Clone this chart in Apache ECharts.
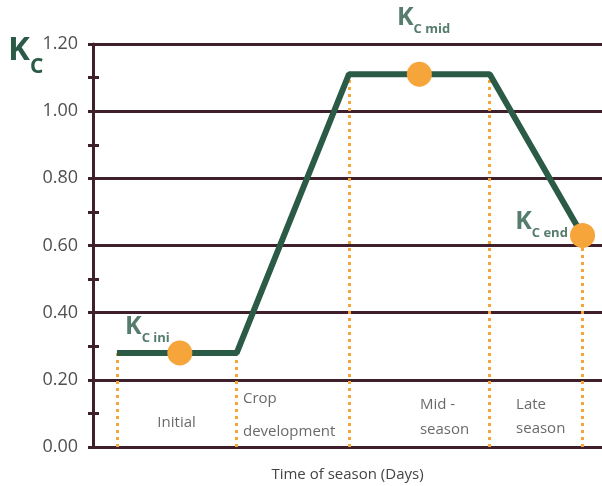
<!DOCTYPE html>
<html>
<head>
<meta charset="utf-8" />
<title>Crop coefficient curve</title>
<script src="https://cdn.jsdelivr.net/npm/echarts@6/dist/echarts.min.js"></script>
<style type="text/css">
html, body { margin: 0; padding: 0; background: #fff; }
#echarts { width: 602px; height: 486px; }
</style>
</head>
<body>
<div id="echarts"></div>
<script type="text/javascript">
var myChart = echarts.init(document.getElementById("echarts"));

// growth stage boundaries (days) and the Kc curve
var stageDays = [8, 48, 85.5, 132.5, 163.5];
var kcCurve = [0.28, 0.28, 1.11, 1.11, 0.63];
// orange points: Kc ini, Kc mid, Kc end
var kcPoints = [[29, 0.28], [109, 1.11], [163.5, 0.63]];
// Kc point labels
var kcNames = ['ini', 'mid', 'end'];
var kcLabelPos = [[10.7, 0.349], [101.5, 1.269], [141.0, 0.663]];
// stage names under the curve
var stageNames = ['Initial', 'Crop\ndevelopment', 'Mid -\nseason', 'Late\nseason'];
var stageLabelPos = [[21.5, 0.072], [50.1, 0.096], [109.2, 0.09], [141.3, 0.09]];
var stageLineHeights = [20, 33, 25, 24];

var green = '#2b5b47';
var orange = '#f6a53b';
var maroon = '#3e1f2b';
var fontFam = '"Open Sans", "Noto Sans", sans-serif';

var curveData = stageDays.map(function (d, i) { return [d, kcCurve[i]]; });
var dropLines = stageDays.map(function (d, i) {
    return [{ coord: [d, 0] }, { coord: [d, kcCurve[i]] }];
});

var option = {
    animation: false,
    textStyle: { fontFamily: fontFam },
    grid: { left: 93, right: 0, top: 44, bottom: 39, outerBoundsMode: 'none', containLabel: false },
    xAxis: {
        type: 'value', min: 0, max: 170,
        axisLine: { show: false }, axisTick: { show: false },
        axisLabel: { show: false }, splitLine: { show: false },
        name: 'Time of season (Days)', nameLocation: 'middle', nameGap: 20,
        nameTextStyle: { fontSize: 15, color: '#444', fontFamily: fontFam }
    },
    yAxis: [{
        type: 'value', min: 0, max: 1.2, interval: 0.2,
        axisLine: { show: true, lineStyle: { color: maroon, width: 3 } },
        axisTick: { show: true, length: 5, lineStyle: { color: maroon, width: 3 } },
        minorTick: { show: true, splitNumber: 2, length: 5, lineStyle: { color: maroon, width: 3 } },
        splitLine: { show: true, lineStyle: { color: maroon, width: 3 } },
        axisLabel: {
            margin: 15, fontSize: 18, color: '#505050', fontFamily: fontFam,
            formatter: function (v) { return v.toFixed(2); }
        }
    }, {
        type: 'value', min: 0, max: 1.2, interval: 0.2, position: 'left',
        axisLine: { show: false }, axisLabel: { show: false }, splitLine: { show: false },
        axisTick: { show: false, inside: true },
        minorTick: { show: true, splitNumber: 2, length: 6, lineStyle: { color: maroon, width: 3 } }
    }],
    graphic: [{
        type: 'text', left: 8, top: 34,
        style: {
            text: '{k|K}{c|C}',
            rich: {
                k: { fontSize: 33, fontWeight: 'bold', fill: green, fontFamily: fontFam, lineHeight: 44, verticalAlign: 'top' },
                c: { fontSize: 21, fontWeight: 'bold', fill: green, fontFamily: fontFam, lineHeight: 44, verticalAlign: 'bottom' }
            }
        }
    }],
    series: [{
        type: 'line', data: curveData, symbol: 'none', z: 3,
        lineStyle: { color: green, width: 6 },
        markLine: {
            silent: true, symbol: 'none', z: 1,
            label: { show: false },
            lineStyle: { color: orange, width: 3, type: [3, 4] },
            data: dropLines
        }
    }, {
        type: 'scatter', data: kcPoints, symbolSize: 25, z: 4,
        itemStyle: { color: orange, opacity: 1 }
    }, {
        type: 'scatter', symbolSize: 0, clip: false, z: 5,
        data: kcLabelPos.map(function (p, i) { return { value: p, name: kcNames[i] }; }),
        label: {
            show: true, position: 'inside', align: 'left', verticalAlign: 'middle',
            formatter: function (p) { return '{k|K}{s|C ' + p.name + '}'; },
            rich: {
                k: { fontSize: 25, fontWeight: 'bold', color: green, fontFamily: fontFam, lineHeight: 30, verticalAlign: 'top' },
                s: { fontSize: 13, fontWeight: 'bold', color: green, fontFamily: fontFam, lineHeight: 30, verticalAlign: 'bottom' }
            }
        }
    }, {
        type: 'scatter', symbolSize: 0, z: 5,
        data: stageLabelPos.map(function (p, i) {
            return { value: p, name: stageNames[i], label: { lineHeight: stageLineHeights[i] } };
        }),
        label: {
            show: true, position: 'inside', align: 'left', verticalAlign: 'middle',
            formatter: function (p) { return p.name; },
            fontSize: 15, color: '#444', fontFamily: fontFam
        }
    }]
};

myChart.setOption(option);
</script>
</body>
</html>
